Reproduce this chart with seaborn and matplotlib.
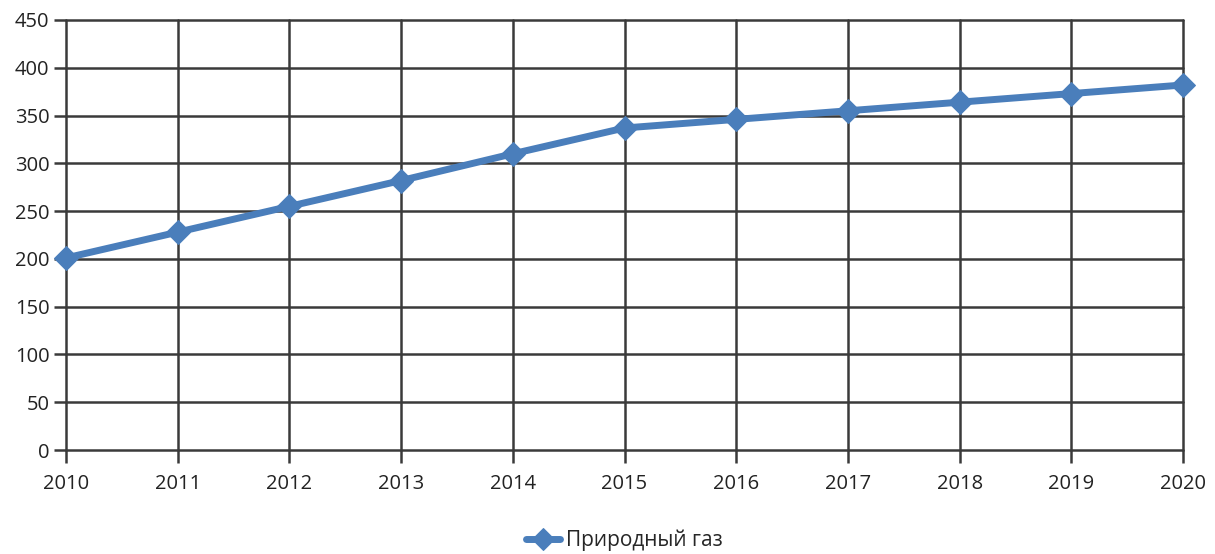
import matplotlib
matplotlib.use("Agg")
import matplotlib.pyplot as plt
import seaborn as sns
import pandas as pd

years = [2010, 2011, 2012, 2013, 2014, 2015, 2016, 2017, 2018, 2019, 2020]
gas = [201, 228, 255, 282, 310, 337, 346, 355, 364, 373, 382]
series_name = "Природный газ"
y_ticks = [0, 50, 100, 150, 200, 250, 300, 350, 400, 450]

sns.set_theme(style="white")
plt.rcParams["font.family"] = ["Open Sans", "DejaVu Sans"]

df = pd.DataFrame({"Год": years, "Значение": gas, "Серия": series_name})

fig = plt.figure(figsize=(12.15, 5.54), dpi=100)
ax = fig.add_axes([0.0543, 0.1877, 0.9194, 0.7762])

grid_color = "#3a3a3a"
line_color = "#4a7ebb"

sns.lineplot(data=df, x="Год", y="Значение", hue="Серия", palette=[line_color],
             marker="D", markersize=12, linewidth=5, markeredgecolor=line_color,
             ax=ax, zorder=5, clip_on=False)

ax.set_xlim(years[0], years[-1])
ax.set_ylim(0, 450)
ax.set_xticks(years)
ax.set_xticklabels([str(y) for y in years])
ax.set_yticks(y_ticks)
ax.set_xlabel("")
ax.set_ylabel("")
ax.grid(True, color=grid_color, linewidth=1.8)
for gl in ax.get_xgridlines() + ax.get_ygridlines():
    gl.set_clip_on(False)
for s in ax.spines.values():
    s.set_visible(False)
ax.tick_params(axis="both", which="major", length=9, width=1.8, color=grid_color,
               labelsize=14.5, labelcolor="#222222", left=True, bottom=True,
               top=False, right=False, pad=3)
ax.tick_params(axis="x", pad=8)

ax.legend(loc="center", bbox_to_anchor=(0.5, -0.21), frameon=False,
          fontsize=15, handlelength=1.6, handletextpad=0.3, markerscale=0.9)

fig.savefig("out.png", dpi=100, facecolor="white")
